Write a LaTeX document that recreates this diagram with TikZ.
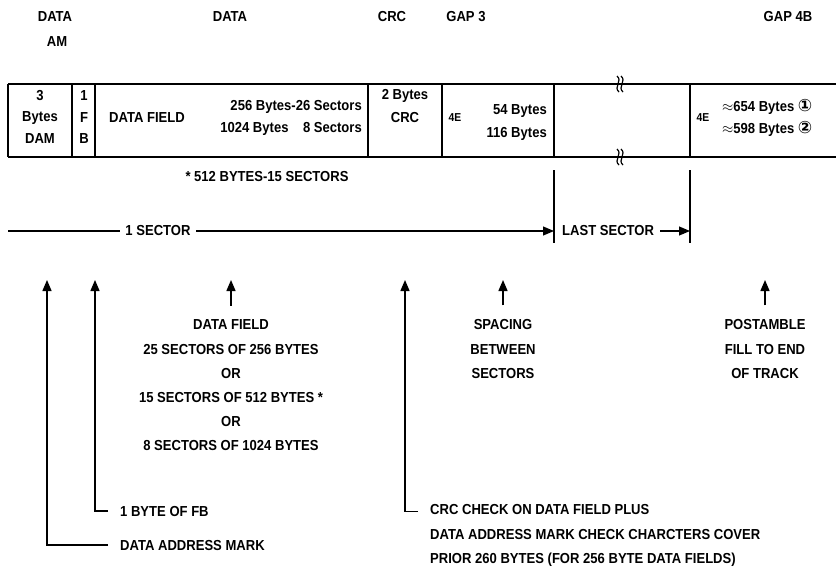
\documentclass[tikz,border=0pt]{standalone}
\usepackage{fontspec}
\setmainfont{Liberation Sans}[FakeStretch=0.9]
\newfontfamily\circfont{DejaVu Sans}
\usetikzlibrary{arrows.meta}

\begin{document}
\begin{tikzpicture}[
    x=1pt, y=-1pt,
    >={Triangle[length=11pt,width=9pt]},
    frame/.style={line width=1.3pt},
    lbl/.style={font=\bfseries\fontsize{14.5}{16}\selectfont, inner sep=0pt},
    small/.style={font=\bfseries\fontsize{11.5}{12}\selectfont, inner sep=0pt},
    block/.style={lbl, align=center, font=\bfseries\fontsize{14.5}{24.2}\selectfont},
    pointer/.style={line width=1.4pt, ->},
    span/.style={line width=1.1pt, ->}
  ]

  \useasboundingbox (0,0) rectangle (836,566);

  % field names over the track
  \node[lbl] (TopDatA) at (55,17) {DATA};
  \node[lbl] (TopAm) at (57,42) {AM};
  \node[lbl] (TopData) at (230,17) {DATA};
  \node[lbl] (TopCrc) at (392,17) {CRC};
  \node[lbl] (TopGapC) at (466,17) {GAP 3};
  \node[lbl] (TopGapD) at (788,17) {GAP 4B};

  % the track
  \draw[frame] (8,84) -- (836,84);
  \draw[frame] (8,157) -- (836,157);
  \foreach \x in {8,72,95,368,442,554,690}
    \draw[frame] (\x,84) -- (\x,157);
  \foreach \y in {84,157}
    \foreach \dx in {0,4}
      \draw[line width=1.2pt] (617+\dx,\y-8) .. controls (623+\dx,\y-3) and (613+\dx,\y+3) .. (619+\dx,\y+8);

  % cell texts
  \node[lbl] (DamA) at (40,96) {3};
  \node[lbl] (DamB) at (40,118) {Bytes};
  \node[lbl] (DamC) at (40,139) {DAM};
  \node[lbl] (FbA) at (84,96) {1};
  \node[lbl] (FbB) at (84,118) {F};
  \node[lbl] (FbC) at (84,139) {B};
  \node[lbl] (FieldName) at (147,118) {DATA FIELD};
  \node[lbl, anchor=east] (FieldA) at (362,107) {256 Bytes-26 Sectors};
  \node[lbl, anchor=east] (FieldB) at (362,129) {1024 Bytes\quad 8 Sectors};
  \node[lbl] (CrcA) at (405,96) {2 Bytes};
  \node[lbl] (CrcB) at (405,118) {CRC};
  \node[small] (GapCFill) at (455,118) {4E};
  \node[lbl, anchor=east] (GapCA) at (547,111) {54 Bytes};
  \node[lbl, anchor=east] (GapCB) at (547,134) {116 Bytes};
  \node[small] (GapDFill) at (703,118) {4E};
  \node[lbl, anchor=west] (GapDA) at (722,107) {$\approx$654 Bytes {\circfont\fontsize{17}{17}\selectfont ①}};
  \node[lbl, anchor=west] (GapDB) at (722,129) {$\approx$598 Bytes {\circfont\fontsize{17}{17}\selectfont ②}};

  \node[lbl] (Note) at (267,177) {* 512 BYTES-15 SECTORS};

  % sector lengths
  \coordinate (SecStart) at (8,231);
  \coordinate (SecEnd) at (554,231);
  \coordinate (LastEnd) at (690,231);
  \draw[line width=1.1pt] (554,170) -- (554,243);
  \draw[line width=1.1pt] (690,170) -- (690,243);
  \draw[span] (SecStart) -- (SecEnd);
  \node[lbl, fill=white, inner xsep=5pt, inner ysep=2pt] (OneSec) at (158,231) {1 SECTOR};
  \node[lbl, anchor=west] (LastSec) at (562,231) {LAST SECTOR};
  \draw[span] ([xshift=6pt]LastSec.east) -- (LastEnd);

  % pointers
  \coordinate (TipDam) at (47,280);
  \coordinate (TipFb) at (95,280);
  \coordinate (TipField) at (231,280);
  \coordinate (TipCrc) at (405,280);
  \coordinate (TipGapC) at (503,280);
  \coordinate (TipGapD) at (765,280);

  \node[block] (FieldText) at (231,385.5) {DATA FIELD\\25 SECTORS OF 256 BYTES\\OR\\15 SECTORS OF 512 BYTES *\\OR\\8 SECTORS OF 1024 BYTES};
  \node[block] (GapCText) at (503,349) {SPACING\\BETWEEN\\SECTORS};
  \node[block] (GapDText) at (765,349) {POSTAMBLE\\FILL TO END\\OF TRACK};
  \node[lbl, anchor=west] (FbText) at (120,511) {1 BYTE OF FB};
  \node[lbl, anchor=west] (DamText) at (120,545) {DATA ADDRESS MARK};
  \node[block, anchor=west, align=left] (CrcText) at (430,535.5) {CRC CHECK ON DATA FIELD PLUS\\DATA ADDRESS MARK CHECK CHARCTERS COVER\\PRIOR 260 BYTES (FOR 256 BYTE DATA FIELDS)};

  \draw[pointer] ([xshift=-12pt]DamText.west) -| (TipDam);
  \draw[pointer] ([xshift=-12pt]FbText.west) -| (TipFb);
  \draw[pointer] ([xshift=-12pt,yshift=24.2pt]CrcText.west) -| (TipCrc);
  \draw[pointer] ([yshift=14pt]FieldText.north) -- (TipField);
  \draw[pointer] ([yshift=14pt]GapCText.north) -- (TipGapC);
  \draw[pointer] ([yshift=14pt]GapDText.north) -- (TipGapD);

\end{tikzpicture}
\end{document}
